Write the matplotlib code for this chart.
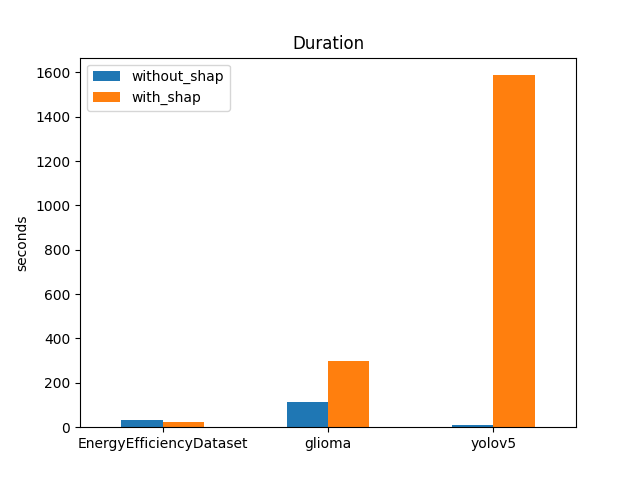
import numpy as np
import matplotlib
matplotlib.use("Agg")
import matplotlib.pyplot as plt

# durations
datasets = ['EnergyEfficiencyDataset', 'glioma', 'yolov5']
without_shap = [33, 114, 10]
with_shap = [24, 297, 1587]

x = np.arange(len(datasets))
width = 0.25

fig, ax = plt.subplots(figsize=(6.4, 4.8), dpi=100)
ax.bar(x - width / 2, without_shap, width, color='#1f77b4', label='without_shap')
ax.bar(x + width / 2, with_shap, width, color='#ff7f0e', label='with_shap')
ax.set_xticks(x)
ax.set_xticklabels(datasets, rotation=0)
ax.set_xlim(-0.5, len(datasets) - 0.5)
ax.set_ylabel('seconds')
ax.set_title('Duration')
ax.legend(loc='upper left')

plt.savefig('out.png')
